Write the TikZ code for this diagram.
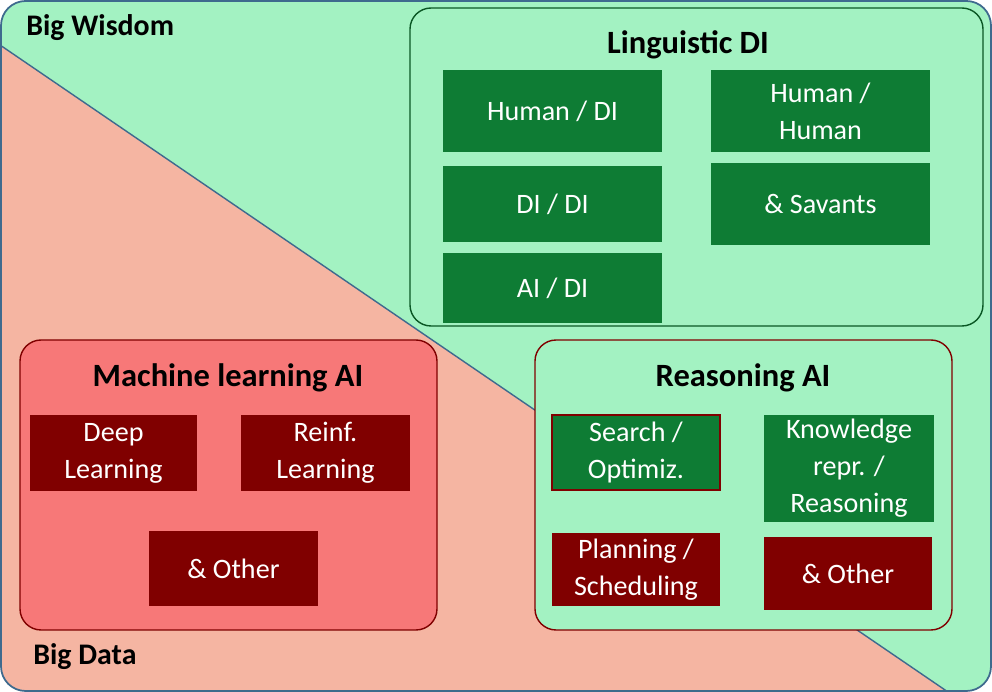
\documentclass[tikz,border=0pt]{standalone}
\usepackage{fontspec}
\setmainfont{Carlito}
\begin{document}
\begin{tikzpicture}[x=0.02cm,y=-0.02cm,
  outer/.style={rounded corners=12pt,line width=0.8pt},
  gbox/.style={fill=dgreen,text=white,align=center,font=\fontsize{16}{21}\selectfont,inner sep=0pt},
  rbox/.style={fill=dred,text=white,align=center,font=\fontsize{16}{21}\selectfont,inner sep=0pt},
  ttl/.style={font=\fontsize{18.5}{21}\selectfont\bfseries},
  lbl/.style={font=\fontsize{17}{19}\selectfont\bfseries}]
\definecolor{lgreen}{HTML}{A3F2C2}
\definecolor{salmon}{HTML}{F5B5A2}
\definecolor{dgreen}{HTML}{0E7C34}
\definecolor{dred}{HTML}{800000}
\definecolor{mred}{HTML}{F77878}
\definecolor{edge}{HTML}{3E6A8E}
\useasboundingbox (0,0) rectangle (992,692);
\begin{scope}
\clip[rounded corners=14pt] (1,1) rectangle (991,691);
\fill[lgreen] (0,0) rectangle (992,692);
\fill[salmon] (0,45) -- (948,692) -- (0,692) -- cycle;
\draw[edge,line width=0.8pt] (0,45) -- (948,692);
\end{scope}
\draw[edge,line width=1pt,rounded corners=14pt] (1,1) rectangle (991,691);
\node[lbl,anchor=west,inner sep=0pt] (bw) at (26,28) {Big Wisdom};
\node[lbl,anchor=west,inner sep=0pt] (bd) at (33,657) {Big Data};
% Linguistic DI
\draw[outer,fill=lgreen,draw=dgreen!70!black] (410,8) rectangle (983,326);
\node[ttl] (lt) at (688,45) {Linguistic DI};
\node[gbox,minimum width=219*0.02cm,minimum height=82*0.02cm] (hd) at (552.5,111) {Human / DI};
\node[gbox,minimum width=219*0.02cm,minimum height=82*0.02cm] (hh) at (820.5,111) {Human /\\Human};
\node[gbox,minimum width=219*0.02cm,minimum height=76*0.02cm] (dd) at (552.5,204) {DI / DI};
\node[gbox,minimum width=219*0.02cm,minimum height=82*0.02cm] (sv) at (820.5,204) {\& Savants};
\node[gbox,minimum width=219*0.02cm,minimum height=70*0.02cm] (ad) at (552.5,288) {AI / DI};
% Machine learning
\draw[outer,fill=mred,draw=dred] (20,340) rectangle (437,630);
\node[ttl] (mt) at (228,378) {Machine learning AI};
\node[rbox,minimum width=167*0.02cm,minimum height=76*0.02cm] (dl) at (113.5,453) {Deep\\Learning};
\node[rbox,minimum width=169*0.02cm,minimum height=76*0.02cm] (rl) at (325.5,453) {Reinf.\\Learning};
\node[rbox,minimum width=169*0.02cm,minimum height=75*0.02cm] (mo) at (233.5,568.5) {\& Other};
% Reasoning
\draw[outer,fill=lgreen,draw=dred] (535,340) rectangle (952,630);
\node[ttl] (rt) at (743,378) {Reasoning AI};
\node[gbox,draw=dred,line width=0.8pt,minimum width=168*0.02cm,minimum height=75*0.02cm] (so) at (636,452.5) {Search /\\Optimiz.};
\node[gbox,minimum width=170*0.02cm,minimum height=107*0.02cm] (kr) at (849,468.5) {Knowledge\\repr. /\\Reasoning};
\node[rbox,minimum width=168*0.02cm,minimum height=73*0.02cm] (ps) at (636,569.5) {Planning /\\Scheduling};
\node[rbox,minimum width=168*0.02cm,minimum height=73*0.02cm] (ro) at (848,573.5) {\& Other};
\end{tikzpicture}
\end{document}
